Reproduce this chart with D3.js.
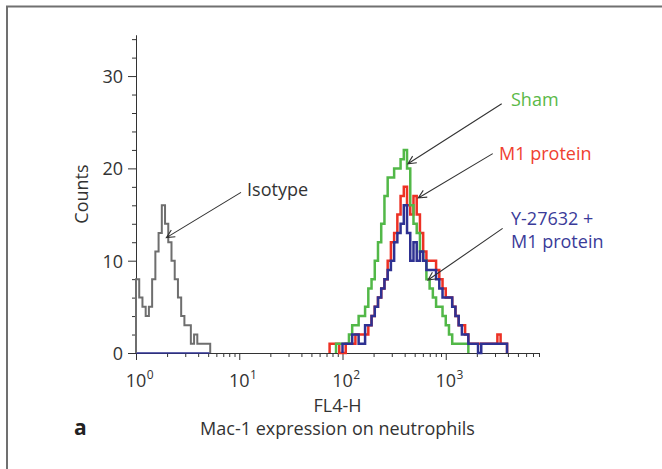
<!DOCTYPE html>
<html>
<head>
<meta charset="utf-8">
<script src="https://cdn.jsdelivr.net/npm/d3@7"></script>
<style>
body { margin: 0; background: #fff; }
svg { display: block; font-family: "Open Sans", sans-serif; }
</style>
</head>
<body>
<div id="chart"></div>
<script>
// FL4-H channels: 32 channels per decade, channel 0 = 10^0
var BINS_PER_DECADE = 32;

var isotypeStart = 0;
var isotypeCounts = [8, 6, 5, 4, 5, 8, 11, 13, 16, 14, 12, 10, 8, 6, 4, 3, 3, 1, 2, 1, 1, 1, 1];

var shamStart = 62;
var shamCounts = [1, 1, 1, 1, 2, 3, 3, 4, 4, 5, 7, 8, 10, 12, 14, 17, 19, 19, 20, 20, 21, 22,
	20, 16, 14, 13, 11, 10, 8, 7, 6, 5, 5, 4, 3, 2, 1, 1, 1, 1, 1];

var m1Start = 60;
var m1Counts = [1, 1, 1, 0, 0, 1, 1, 1, 2, 2, 2, 2, 3, 4, 5, 6, 7, 8, 10, 12, 13, 15, 17, 18,
	16, 15, 17, 15, 13, 11, 10, 10, 10, 9, 8, 7, 6, 6, 5, 4, 3, 3, 2, 1, 1, 1, 1, 1, 1, 1,
	1, 1, 2, 1, 1];

var yM1Start = 64;
var yM1Counts = [1, 1, 1, 2, 2, 1, 1, 3, 3, 4, 5, 6, 7, 8, 9, 10, 12, 13, 14, 16, 13, 10, 12,
	10, 11, 10, 9, 9, 9, 8, 7, 6, 6, 6, 5, 4, 3, 2, 2, 1, 1, 1, 0, 1, 1, 1, 1, 1, 1, 1, 1];

var xTickValues = [1, 10, 100, 1000];
var xTickExponents = ['0', '1', '2', '3'];
var yTickValues = [0, 10, 20, 30];

var series = [
	{name: 'Isotype', start: isotypeStart, counts: isotypeCounts, color: '#6e6e6e', width: 2},
	{name: 'M1 protein', start: m1Start, counts: m1Counts, color: '#ed3124', width: 2.5},
	{name: 'Sham', start: shamStart, counts: shamCounts, color: '#52b848', width: 2.5},
	{name: 'Y-27632 + M1 protein', start: yM1Start, counts: yM1Counts, color: '#2e3192', width: 2.5}
];

// labels with arrows, in data units (FL4-H value, count)
var annotations = [
	{lines: ['Isotype'], color: '#333', text: [11.9, 17.0], tail: [10.4, 17.4], tip: [1.97, 12.5]},
	{lines: ['Sham'], color: '#5ab947', text: [4285, 26.8], tail: [3483, 27.0], tip: [430, 20.5]},
	{lines: ['M1 protein'], color: '#ef4130', text: [3281, 20.9], tail: [2851, 21.6], tip: [542, 16.8]},
	{lines: ['Y-27632 +', 'M1 protein'], color: '#3a3b99', text: [4285, 13.9], tail: [3556, 13.5], tip: [673, 7.9]}
];

var
WIDTH = 662,
HEIGHT = 469,
margin = {top: 35, right: 123, bottom: 116, left: 136},
X_MAX = 8000,
Y_MAX = 34.45;

var svg = d3
	.select('#chart')
	.append('svg')
	.attr('width', WIDTH)
	.attr('height', HEIGHT)
	;

// frame (open to the right and bottom)
svg.append('path')
	.attr('d', 'M7,' + HEIGHT + 'V6.5H' + WIDTH)
	.attr('fill', 'none')
	.attr('stroke', '#707070')
	.attr('stroke-width', 2)
	;

var x = d3.scaleLog()
	.domain([1, X_MAX])
	.range([margin.left, WIDTH - margin.right]);
var y = d3.scaleLinear()
	.domain([0, Y_MAX])
	.range([HEIGHT - margin.bottom, margin.top]);

// minor ticks
var xMinor = [];
xTickValues.forEach(function(d) {
	for (var k = 2; k <= 9; k++) if (d * k <= X_MAX) xMinor.push(d * k);
});
var yMinor = d3.range(2, Y_MAX, 2).filter(function(d) { return d % 10 !== 0; });

var xAxisG = svg.append('g')
	.attr('transform', 'translate(0,' + y(0) + ')');
xAxisG.append('g')
	.call(d3.axisBottom(x).tickValues(xMinor).tickSize(4).tickSizeOuter(0).tickFormat(''));
xAxisG.append('g')
	.call(d3.axisBottom(x).tickValues(xTickValues).tickSize(7).tickSizeOuter(0).tickFormat(''));

var yAxisG = svg.append('g')
	.attr('transform', 'translate(' + margin.left + ',0)');
yAxisG.append('g')
	.call(d3.axisLeft(y).tickValues(yMinor).tickSize(4).tickSizeOuter(0).tickFormat(''));
yAxisG.append('g')
	.call(d3.axisLeft(y).tickValues(yTickValues).tickSize(8).tickSizeOuter(0).tickPadding(5))
	.selectAll('text')
	.attr('font-family', '"Open Sans", sans-serif')
	.attr('font-size', 18)
	.attr('fill', '#333')
	.attr('dy', '0.36em')
	;
svg.selectAll('.domain, .tick line').attr('stroke', '#333');

// x tick labels 10^n, "10" centered on the tick
xTickValues.forEach(function(d, i) {
	var base = svg.append('text')
		.attr('x', x(d))
		.attr('y', 387)
		.attr('text-anchor', 'middle')
		.attr('font-size', 18)
		.attr('fill', '#333')
		.text('10');
	var w = base.node().getComputedTextLength();
	svg.append('text')
		.attr('x', x(d) + w / 2 + 0.5)
		.attr('y', 379)
		.attr('font-size', 12)
		.attr('fill', '#333')
		.text(xTickExponents[i]);
});

// histograms
var line = d3.line()
	.x(function(d) { return x(Math.pow(10, d[0] / BINS_PER_DECADE)); })
	.y(function(d) { return y(d[1]); })
	.curve(d3.curveStepAfter);

function stepPoints(start, counts) {
	var pts = [[start, 0]];
	counts.forEach(function(c, i) { pts.push([start + i, c]); });
	pts.push([start + counts.length, 0]);
	return pts;
}

// blue baseline under the isotype
svg.append('path')
	.attr('d', line([[isotypeStart, 0], [isotypeStart + isotypeCounts.length, 0]]))
	.attr('stroke', '#2e3192')
	.attr('stroke-width', 1.5)
	.attr('fill', 'none');

svg.selectAll('path.hist')
	.data(series)
	.enter()
	.append('path')
	.attr('class', 'hist')
	.attr('d', function(d) { return line(stepPoints(d.start, d.counts)); })
	.attr('fill', 'none')
	.attr('stroke', function(d) { return d.color; })
	.attr('stroke-width', function(d) { return d.width; })
	.attr('stroke-linejoin', 'miter')
	;

// annotations
annotations.forEach(function(a) {
	var x0 = x(a.tail[0]), y0 = y(a.tail[1]),
		x1 = x(a.tip[0]), y1 = y(a.tip[1]);
	var ang = Math.atan2(y0 - y1, x0 - x1), len = 9, spread = 0.45;
	var head = 'M' + (x1 + len * Math.cos(ang - spread)) + ',' + (y1 + len * Math.sin(ang - spread)) +
		'L' + x1 + ',' + y1 +
		'L' + (x1 + len * Math.cos(ang + spread)) + ',' + (y1 + len * Math.sin(ang + spread));
	svg.append('path')
		.attr('d', 'M' + x0 + ',' + y0 + 'L' + x1 + ',' + y1 + head)
		.attr('fill', 'none')
		.attr('stroke', '#333')
		.attr('stroke-width', 1.1);
	var t = svg.append('text')
		.attr('x', x(a.text[0]))
		.attr('y', y(a.text[1]))
		.attr('font-size', 18)
		.attr('fill', a.color);
	a.lines.forEach(function(s, i) {
		t.append('tspan')
			.attr('x', x(a.text[0]))
			.attr('dy', i ? 23 : 0)
			.text(s);
	});
});

// axis titles
svg.append('text')
	.attr('transform', 'translate(88,' + ((y(0) + margin.top) / 2) + ') rotate(-90)')
	.attr('text-anchor', 'middle')
	.attr('font-size', 18)
	.attr('fill', '#333')
	.text('Counts');

svg.append('text')
	.attr('x', (x(1) + x(X_MAX)) / 2)
	.attr('y', 412)
	.attr('text-anchor', 'middle')
	.attr('font-size', 18)
	.attr('fill', '#333')
	.text('FL4-H');

svg.append('text')
	.attr('x', (x(1) + x(X_MAX)) / 2)
	.attr('y', 435)
	.attr('text-anchor', 'middle')
	.attr('font-size', 18)
	.attr('fill', '#333')
	.text('Mac-1 expression on neutrophils');

svg.append('text')
	.attr('x', 74)
	.attr('y', 435)
	.attr('font-size', 21)
	.attr('font-weight', 'bold')
	.attr('fill', '#222')
	.text('a');
</script>
</body>
</html>
